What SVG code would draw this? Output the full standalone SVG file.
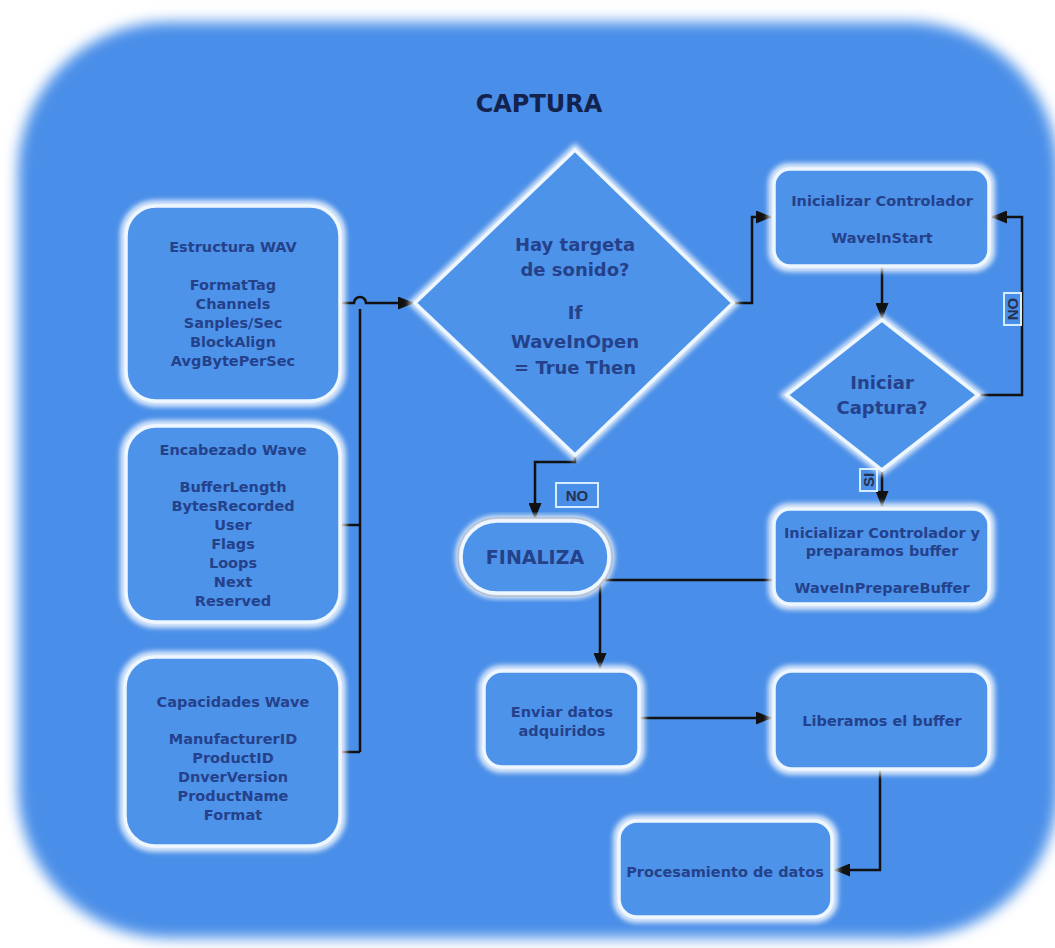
<svg xmlns="http://www.w3.org/2000/svg" width="1055" height="948" viewBox="0 0 1055 948">
<style>
.t{font-family:"DejaVu Sans","Liberation Sans",sans-serif;font-weight:bold;fill:#24418a;text-anchor:middle}
.s{font-size:14.5px}
.m{font-size:14.5px}
.d{font-size:18px}
.c{fill:none;stroke:#111;stroke-width:2.5}
.glow{fill:none;stroke:#ffffff;stroke-width:10;opacity:0.8}
.box{fill:#4e93ea;stroke:#eef7ff;stroke-width:3.5}
.lbl{fill:none;stroke:#d6ecff;stroke-width:2}
.lt{font-family:"Liberation Sans",Arial,sans-serif;font-size:15px;font-weight:bold;fill:#26304f;text-anchor:middle}
</style>
<defs>
<filter id="bgblur" x="-5%" y="-5%" width="110%" height="110%"><feGaussianBlur stdDeviation="7"/></filter>
<filter id="gl" x="-10%" y="-10%" width="120%" height="120%"><feGaussianBlur stdDeviation="2.5"/></filter>
<marker id="arr" markerWidth="16" markerHeight="13" refX="15" refY="6.5" orient="auto" markerUnits="userSpaceOnUse"><path d="M0,0 L16,6.5 L0,13 z" fill="#111"/></marker>
</defs>
<rect width="1055" height="948" fill="#ffffff"/>
<g id="background">
<rect x="18" y="22" width="1040" height="916" rx="150" fill="#4a8ee8" filter="url(#bgblur)"/>
</g>
<text id="title" x="539" y="112" font-family="DejaVu Sans, Liberation Sans, sans-serif" font-weight="bold" font-size="24" fill="#14234d" text-anchor="middle">CAPTURA</text>

<g id="connectors">
<path class="c" d="M342,303 H354 a6,6 0 0 1 12,0 H413" marker-end="url(#arr)"/>
<path class="c" d="M360,309 V752"/>
<path class="c" d="M340,525 H360"/>
<path class="c" d="M340,752 H360"/>
<path class="c" d="M733,303 H752 V217 H771" marker-end="url(#arr)"/>
<path class="c" d="M575,455 V462 H535 V518" marker-end="url(#arr)"/>
<path class="c" d="M882,267 V318" marker-end="url(#arr)"/>
<path class="c" d="M978,395 H1022 V217 H992" marker-end="url(#arr)"/>
<path class="c" d="M882,470 V506" marker-end="url(#arr)"/>
<path class="c" d="M773,580 H600 V668" marker-end="url(#arr)"/>
<path class="c" d="M640,718 H771" marker-end="url(#arr)"/>
<path class="c" d="M880,770 V870 H835" marker-end="url(#arr)"/>
</g>

<g id="lbl-no1">
<rect class="lbl" x="556" y="483" width="42" height="24"/>
<text class="lt" x="577" y="501">NO</text>
</g>
<g id="lbl-no2">
<rect class="lbl" x="1004" y="293" width="17" height="32"/>
<text class="lt" x="1013" y="309" transform="rotate(-90 1013 309)" dy="5">NO</text>
</g>
<g id="lbl-si">
<rect class="lbl" x="860" y="469" width="17" height="22"/>
<text class="lt" x="868.5" y="480" transform="rotate(-90 868.5 480)" dy="5">SI</text>
</g>

<g id="n-estructura">
<rect class="glow" x="125" y="205" width="216" height="197" rx="30" filter="url(#gl)"/>
<rect class="box" x="126" y="206" width="214" height="195" rx="30"/>
<text class="t s" x="233" y="252">Estructura WAV</text>
<text class="t s" x="233" y="290">FormatTag</text>
<text class="t s" x="233" y="309">Channels</text>
<text class="t s" x="233" y="328">Sanples/Sec</text>
<text class="t s" x="233" y="347">BlockAlign</text>
<text class="t s" x="233" y="366">AvgBytePerSec</text>
</g>

<g id="n-encabezado">
<rect class="glow" x="125" y="425" width="216" height="198" rx="30" filter="url(#gl)"/>
<rect class="box" x="126" y="426" width="214" height="196" rx="30"/>
<text class="t s" x="233" y="455">Encabezado Wave</text>
<text class="t s" x="233" y="492">BufferLength</text>
<text class="t s" x="233" y="511">BytesRecorded</text>
<text class="t s" x="233" y="530">User</text>
<text class="t s" x="233" y="549">Flags</text>
<text class="t s" x="233" y="568">Loops</text>
<text class="t s" x="233" y="587">Next</text>
<text class="t s" x="233" y="606">Reserved</text>
</g>

<g id="n-capacidades">
<rect class="glow" x="124" y="656" width="217" height="191" rx="30" filter="url(#gl)"/>
<rect class="box" x="125" y="657" width="215" height="189" rx="30"/>
<text class="t s" x="233" y="707">Capacidades Wave</text>
<text class="t s" x="233" y="744">ManufacturerID</text>
<text class="t s" x="233" y="763">ProductID</text>
<text class="t s" x="233" y="782">DnverVersion</text>
<text class="t s" x="233" y="801">ProductName</text>
<text class="t s" x="233" y="820">Format</text>
</g>

<g id="n-hay-targeta">
<polygon class="glow" points="575,150 733,303 575,455 415,303" filter="url(#gl)"/>
<polygon class="box" points="575,150 733,303 575,455 415,303"/>
<text class="t d" x="575" y="251">Hay targeta</text>
<text class="t d" x="575" y="276">de sonido?</text>
<text class="t d" x="575" y="319">If</text>
<text class="t d" x="575" y="348">WaveInOpen</text>
<text class="t d" x="575" y="374">= True Then</text>
</g>

<g id="n-ini-ctrl">
<rect class="glow" x="773" y="168" width="217" height="99" rx="16" filter="url(#gl)"/>
<rect class="box" x="774" y="169" width="215" height="97" rx="16"/>
<text class="t m" x="882" y="206">Inicializar Controlador</text>
<text class="t m" x="882" y="243">WaveInStart</text>
</g>

<g id="n-iniciar-captura">
<polygon class="glow" points="882,320 978,395 882,470 787,395" filter="url(#gl)"/>
<polygon class="box" points="882,320 978,395 882,470 787,395"/>
<text class="t d" x="882" y="389">Iniciar</text>
<text class="t d" x="882" y="414">Captura?</text>
</g>

<g id="n-finaliza">
<rect x="458" y="518" width="154" height="78" rx="39" fill="none" stroke="#1c2b4d" stroke-width="1.5"/>
<rect class="glow" x="460" y="520" width="150" height="74" rx="37" filter="url(#gl)"/>
<rect class="box" x="461" y="521" width="148" height="72" rx="36"/>
<text class="t" x="535" y="564" font-size="19">FINALIZA</text>
</g>

<g id="n-ini-ctrl-buffer">
<rect class="glow" x="773" y="508" width="217" height="97" rx="16" filter="url(#gl)"/>
<rect class="box" x="774" y="509" width="215" height="95" rx="16"/>
<text class="t m" x="882" y="538">Inicializar Controlador y</text>
<text class="t m" x="882" y="556">preparamos buffer</text>
<text class="t m" x="882" y="593">WaveInPrepareBuffer</text>
</g>

<g id="n-enviar">
<rect class="glow" x="483" y="670" width="157" height="98" rx="18" filter="url(#gl)"/>
<rect class="box" x="484" y="671" width="155" height="96" rx="18"/>
<text class="t m" x="562" y="717">Enviar datos</text>
<text class="t m" x="562" y="736">adquiridos</text>
</g>

<g id="n-liberamos">
<rect class="glow" x="773" y="670" width="217" height="100" rx="18" filter="url(#gl)"/>
<rect class="box" x="774" y="671" width="215" height="98" rx="18"/>
<text class="t m" x="882" y="726">Liberamos el buffer</text>
</g>

<g id="n-procesamiento">
<rect class="glow" x="618" y="820" width="215" height="98" rx="18" filter="url(#gl)"/>
<rect class="box" x="619" y="821" width="213" height="96" rx="18"/>
<text class="t m" x="725" y="877">Procesamiento de datos</text>
</g>
</svg>
